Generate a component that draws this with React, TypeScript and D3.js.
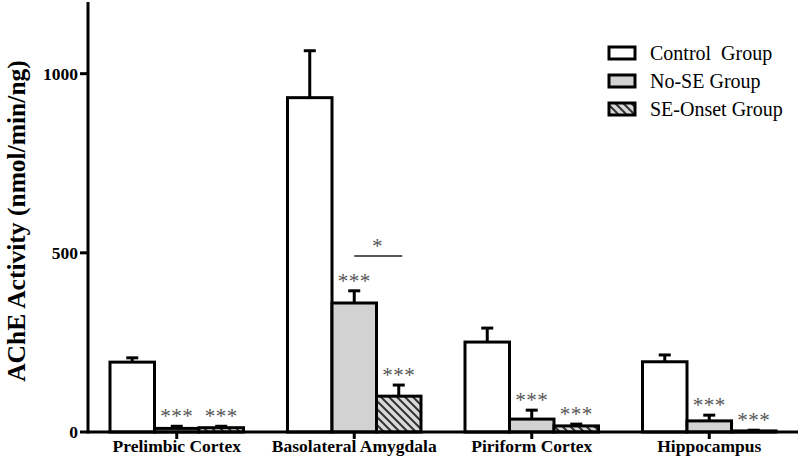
import React from 'react';
import * as d3 from 'd3';

// regions on the x axis
const regions = ['Prelimbic Cortex', 'Basolateral Amygdala', 'Piriform Cortex', 'Hippocampus'];
const groups = ['Control  Group', 'No-SE Group', 'SE-Onset Group'];

// mean values per group, in region order
const controlMean = [195, 933, 251, 196];
const noSeMean = [10, 360, 36, 31];
const seOnsetMean = [12, 100, 17, 3];

// SEM (upper error bar only)
const controlErr = [12, 131, 39, 19];
const noSeErr = [6, 34, 25, 16];
const seOnsetErr = [4, 31, 5, 2];

// significance markers vs control
const noSeStars = ['***', '***', '***', '***'];
const seOnsetStars = ['***', '***', '***', '***'];

const yTicks = [0, 500, 1000];

export default function App() {
  const width = 800, height = 461;
  const left = 88, right = 798, bottom = 432, top = 2;

  const x = d3.scaleBand().domain(regions).range([left, right]);
  const y = d3.scaleLinear().domain([0, 1200]).range([bottom, top]);
  const barW = 44.5;

  const series = [
    { mean: controlMean, err: controlErr, fill: '#ffffff', stars: null as string[] | null },
    { mean: noSeMean, err: noSeErr, fill: '#d2d2d2', stars: noSeStars },
    { mean: seOnsetMean, err: seOnsetErr, fill: 'url(#hatch)', stars: seOnsetStars },
  ];

  const center = (r: string) => (x(r) as number) + x.bandwidth() / 2;
  const serif = '"Liberation Serif", "DejaVu Serif", serif';

  return (
    <svg width={width} height={height} style={{ position: 'absolute', left: 0, top: 0 }}>
      <defs>
        <pattern id="hatch" patternUnits="userSpaceOnUse" width="8" height="8">
          <rect width="8" height="8" fill="#d9d9d9" />
          <path d="M0,0 L8,8 M-2,6 L2,10 M6,-2 L10,2" stroke="#333" strokeWidth="2" />
        </pattern>
      </defs>

      {/* bars */}
      {regions.map((r, i) => (
        <g key={r}>
          {series.map((s, k) => {
            const cx = center(r) + (k - 1) * barW;
            const v = s.mean[i];
            const eTop = y(v + s.err[i]);
            return (
              <g key={k}>
                <line x1={cx} x2={cx} y1={y(v)} y2={eTop} stroke="#000" strokeWidth={3} />
                <line x1={cx - 6} x2={cx + 6} y1={eTop} y2={eTop} stroke="#000" strokeWidth={3} />
                <rect x={cx - barW / 2} y={y(v)} width={barW} height={bottom - y(v)}
                  fill={s.fill} stroke="#000" strokeWidth={3} />
                {s.stars && (
                  <text x={cx} y={eTop - 3} textAnchor="middle" fontFamily={serif}
                    fontSize={21} fill="#555" letterSpacing={0.5}>{s.stars[i]}</text>
                )}
              </g>
            );
          })}
        </g>
      ))}

      {/* No-SE vs SE-Onset comparison in amygdala */}
      <line x1={center(regions[1])} x2={center(regions[1]) + 48} y1={256} y2={256} stroke="#222" strokeWidth={1.5} />
      <text x={center(regions[1]) + 23} y={253} textAnchor="middle" fontFamily={serif} fontSize={21} fill="#555">*</text>

      {/* axes */}
      <line x1={left} x2={left} y1={top} y2={bottom + 1.5} stroke="#000" strokeWidth={3} />
      <line x1={left} x2={right} y1={bottom} y2={bottom} stroke="#000" strokeWidth={3} />
      {yTicks.map(t => (
        <g key={t}>
          <line x1={left - 8} x2={left} y1={y(t)} y2={y(t)} stroke="#000" strokeWidth={3} />
          <text x={left - 10} y={y(t)} dy="0.35em" textAnchor="end" fontFamily={serif}
            fontWeight="bold" fontSize={17.5}>{t}</text>
        </g>
      ))}
      {regions.map(r => (
        <g key={r}>
          <line x1={center(r)} x2={center(r)} y1={bottom} y2={bottom + 7} stroke="#000" strokeWidth={3} />
          <text x={center(r)} y={452} textAnchor="middle" fontFamily={serif} fontWeight="bold" fontSize={17.5}>{r}</text>
        </g>
      ))}
      <text transform={`translate(25,${221}) rotate(-90)`} textAnchor="middle"
        fontFamily={serif} fontWeight="bold" fontSize={25.5}>AChE Activity (nmol/min/ng)</text>

      {/* legend */}
      {groups.map((g, k) => {
        const ly = 53 + k * 28;
        return (
          <g key={g}>
            <rect x={609} y={ly - 6} width={26} height={12} fill={series[k].fill} stroke="#000" strokeWidth={3} />
            <text x={650} y={ly} dy="0.35em" fontFamily={serif} fontSize={20} style={{ whiteSpace: 'pre' }}>{g}</text>
          </g>
        );
      })}
    </svg>
  );
}
